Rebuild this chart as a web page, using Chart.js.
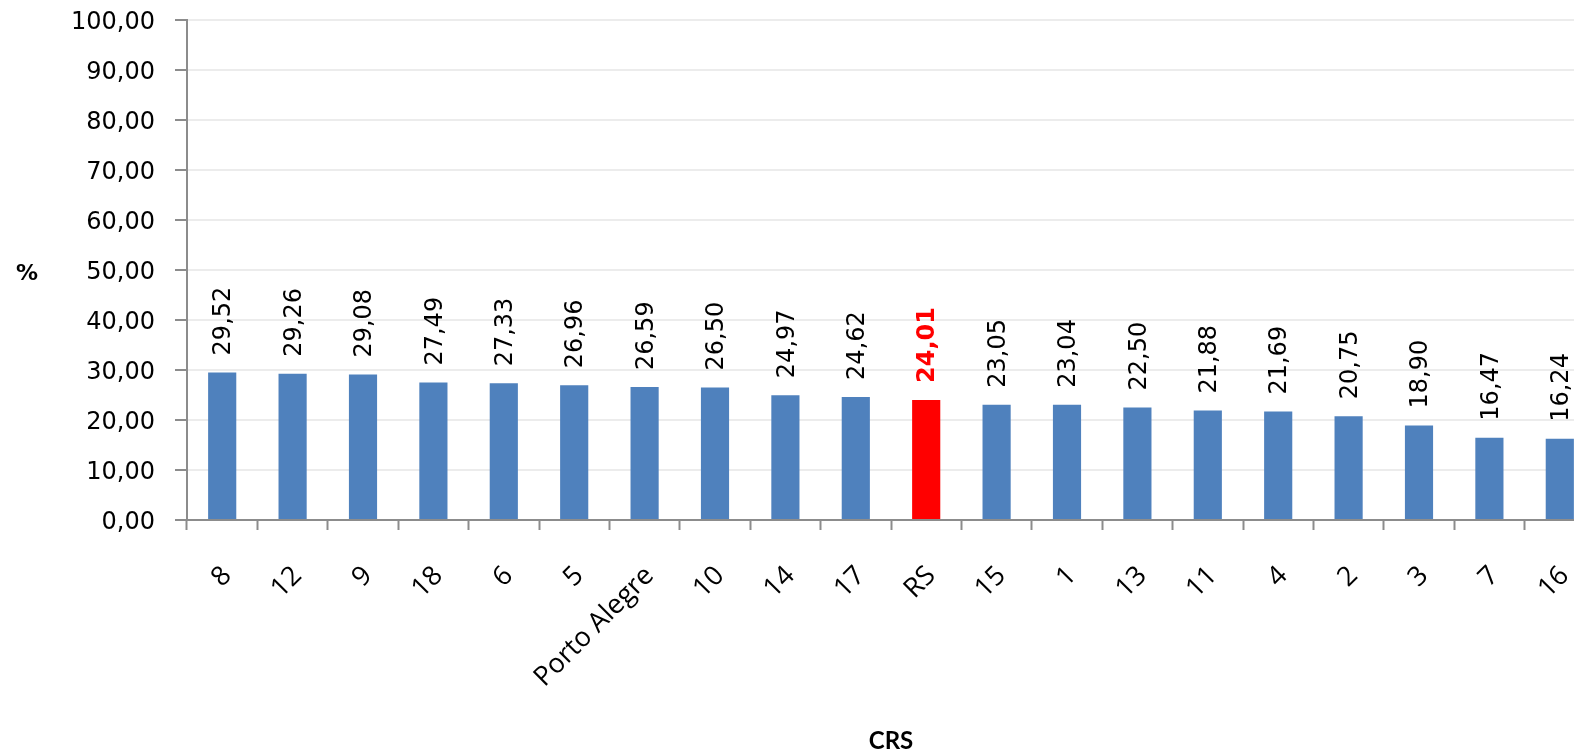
<!DOCTYPE html>
<html>
<head>
<meta charset="utf-8">
<script src="https://cdn.jsdelivr.net/npm/chart.js@4"></script>
<style>
html,body{margin:0;padding:0;overflow:hidden;background:#fff;}
#box{width:1600px;height:751px;}
</style>
</head>
<body>
<div id="box"><canvas id="c" width="1600" height="751"></canvas></div>
<script>
// CRS, ordered as in the chart
const crs=['8','12','9','18','6','5','Porto Alegre','10','14','17','RS','15','1','13','11','4','2','3','7','16'];
const pct=[29.52,29.26,29.08,27.49,27.33,26.96,26.59,26.50,24.97,24.62,24.01,23.05,23.04,22.50,21.88,21.69,20.75,18.90,16.47,16.24];
const yTicks=[0,10,20,30,40,50,60,70,80,90,100];
const highlight='RS';

const fmt=v=>v.toFixed(2).replace('.',',');
const verdana='"DejaVu Sans", Verdana, sans-serif';

const barColors=crs.map(c=>c===highlight?'#ff0000':'#4f81bd');

const valueLabels={
  id:'valueLabels',
  afterDatasetsDraw(chart){
    const ctx=chart.ctx;
    chart.getDatasetMeta(0).data.forEach((bar,i)=>{
      const hl=crs[i]===highlight;
      ctx.save();
      ctx.translate(bar.x+2,bar.y-17);
      ctx.rotate(-Math.PI/2);
      ctx.textAlign='left';
      ctx.textBaseline='middle';
      ctx.font=(hl?'bold ':'')+'24px '+verdana;
      ctx.fillStyle=hl?'#ff0000':'#000';
      ctx.fillText(fmt(pct[i]),0,0);
      ctx.restore();
    });
  }
};

const yTitle={
  id:'yTitle',
  afterDraw(chart){
    const ctx=chart.ctx,a=chart.chartArea;
    ctx.save();
    ctx.font='bold 22px '+verdana;
    ctx.fillStyle='#000';
    ctx.textAlign='center';
    ctx.textBaseline='middle';
    ctx.fillText('%',27,(a.top+a.bottom)/2+4);
    ctx.restore();
  }
};

new Chart(document.getElementById('c'),{
  type:'bar',
  data:{
    labels:crs,
    datasets:[{data:pct,backgroundColor:barColors,barPercentage:0.4,categoryPercentage:1}]
  },
  plugins:[valueLabels,yTitle],
  options:{
    responsive:false,
    animation:false,
    layout:{padding:{top:20,right:5,left:0,bottom:0}},
    plugins:{legend:{display:false},tooltip:{enabled:false}},
    scales:{
      x:{
        grid:{offset:true,drawOnChartArea:false,tickLength:10,tickColor:'#8c8c8c',tickWidth:2},
        border:{color:'#8c8c8c',width:2},
        ticks:{color:'#000',font:{family:'"Open Sans"',size:27},minRotation:45,maxRotation:45,padding:30,labelOffset:5,autoSkip:false},
        title:{display:true,text:'CRS',color:'#000',font:{family:'Lato',size:24,weight:'bold'},padding:{top:0,bottom:-5}},
        afterFit(s){s.height=231;s.paddingLeft=0;s.paddingRight=0;}
      },
      y:{
        min:0,max:100,
        afterBuildTicks(s){s.ticks=yTicks.map(v=>({value:v}));},
        grid:{color:'#ececec',lineWidth:2,tickLength:12,tickColor:'#8c8c8c',tickWidth:2},
        border:{color:'#8c8c8c',width:2},
        ticks:{color:'#000',font:{family:'"DejaVu Sans"',size:24},padding:20,labelOffset:3,callback:v=>fmt(v)},
        afterFit(s){s.width=187;s.paddingTop=0;s.paddingBottom=0;}
      }
    }
  }
});
</script>
</body>
</html>
